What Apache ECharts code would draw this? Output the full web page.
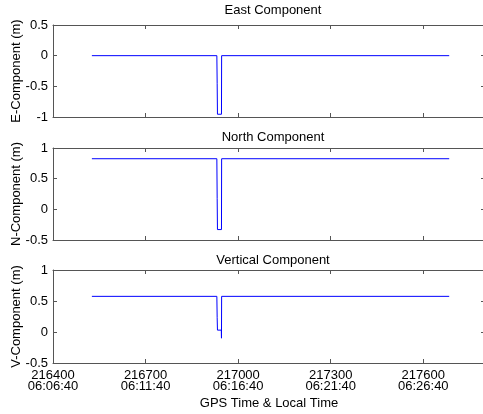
<!DOCTYPE html>
<html><head><meta charset="utf-8">
<script src="https://cdn.jsdelivr.net/npm/echarts@6/dist/echarts.min.js"></script>
<style>html,body{margin:0;padding:0;background:#fff}#c{width:483px;height:414px}</style>
</head><body><div id="c"></div>
<script>
// Tick labels
const tickGps = [216400, 216700, 217000, 217300, 217600];
const tickLocal = ['06:06:40', '06:11:40', '06:16:40', '06:21:40', '06:26:40'];
const xStart = 216400, xEnd = 217800, xStep = 300;

// East component
const eastT = [216526, 216931, 216931.5, 216932, 216933, 216946, 216946.5, 217684];
const eastV = [0, 0, 0.03, -0.45, -0.955, -0.955, 0, 0];
// North component
const northT = [216526, 216931, 216932, 216933, 216946, 216946.5, 217684];
const northV = [0.825, 0.825, 0.18, -0.33, -0.33, 0.825, 0.825];
// Vertical component
const vertT = [216526, 216931, 216931.5, 216932, 216933, 216945.5, 216946, 216946.5, 217684];
const vertV = [0.575, 0.575, 0.6, 0.23, 0.03, 0.03, -0.1, 0.575, 0.575];

const titles = ['East Component', 'North Component', 'Vertical Component'];
const yNames = ['E-Component (m)', 'N-Component (m)', 'V-Component (m)'];
const yRanges = [[-1, 0.5], [-0.5, 1], [-0.5, 1]];

const FONT = 'Liberation Sans, Arial, sans-serif';
const AX = '#555';
const gridTops = [25, 148, 270];
const gridH = [92, 92, 93];

const grids = [], xAxes = [], yAxes = [], series = [], titleOpts = [];
const sets = [[eastT, eastV], [northT, northV], [vertT, vertV]];
const titleTops = [-1, 126, 249];

function gpsLabel(v) {
  const i = tickGps.indexOf(v + xStart);
  return i < 0 ? '' : tickGps[i] + '\n' + tickLocal[i];
}

for (let g = 0; g < 3; g++) {
  grids.push({left: 53, width: 432, top: gridTops[g], height: gridH[g], containLabel: false, outerBoundsMode: 'none'});
  titleOpts.push({text: titles[g], left: 268, top: titleTops[g], textAlign: 'center',
    textStyle: {fontFamily: FONT, fontSize: 13, fontWeight: 'normal', color: '#000'}});
  const last = g === 2;
  const base = {type: 'value', gridIndex: g, min: 0, max: xEnd - xStart, interval: xStep,
    splitLine: {show: false},
    axisLine: {show: true, onZero: false, lineStyle: {color: AX, width: 1}},
    axisTick: {show: true, inside: true, length: 4, lineStyle: {color: AX}}};
  xAxes.push(Object.assign({}, base, {position: 'bottom',
    axisLabel: {show: last, formatter: gpsLabel, fontFamily: FONT, fontSize: 13, color: '#000', lineHeight: 11, margin: 7},
    name: last ? 'GPS Time & Local Time' : '', nameLocation: 'middle', nameGap: 34, nameMoveOverlap: false,
    nameTextStyle: {fontFamily: FONT, fontSize: 13, color: '#000'}}));
  xAxes.push(Object.assign({}, base, {position: 'top', axisLabel: {show: false}}));
  const ybase = {type: 'value', gridIndex: g, min: yRanges[g][0], max: yRanges[g][1], interval: 0.5,
    splitLine: {show: false},
    axisLine: {show: true, onZero: false, lineStyle: {color: AX, width: 1}},
    axisTick: {show: true, inside: true, length: 4, lineStyle: {color: AX}}};
  yAxes.push(Object.assign({}, ybase, {position: 'left',
    axisLabel: {show: true, fontFamily: FONT, fontSize: 13, color: '#000', margin: 5},
    name: yNames[g], nameLocation: 'middle', nameRotate: 90, nameGap: 30, nameMoveOverlap: false,
    nameTextStyle: {fontFamily: FONT, fontSize: 13, color: '#000'}}));
  yAxes.push(Object.assign({}, ybase, {position: 'right', axisLabel: {show: false},
    axisLine: {show: false, onZero: false}}));
  const [T, V] = sets[g];
  series.push({type: 'line', xAxisIndex: 2 * g, yAxisIndex: 2 * g,
    data: T.map((t, i) => [t - xStart, V[i]]), color: '#0000ff',
    showSymbol: false, itemStyle: {color: '#0000ff'}, lineStyle: {color: '#0000ff', width: 1}, silent: true});
}

const chart = echarts.init(document.getElementById('c'), null, {renderer: 'canvas'});
chart.setOption({animation: false, backgroundColor: '#fff', title: titleOpts,
  grid: grids, xAxis: xAxes, yAxis: yAxes, series: series});
</script></body></html>
